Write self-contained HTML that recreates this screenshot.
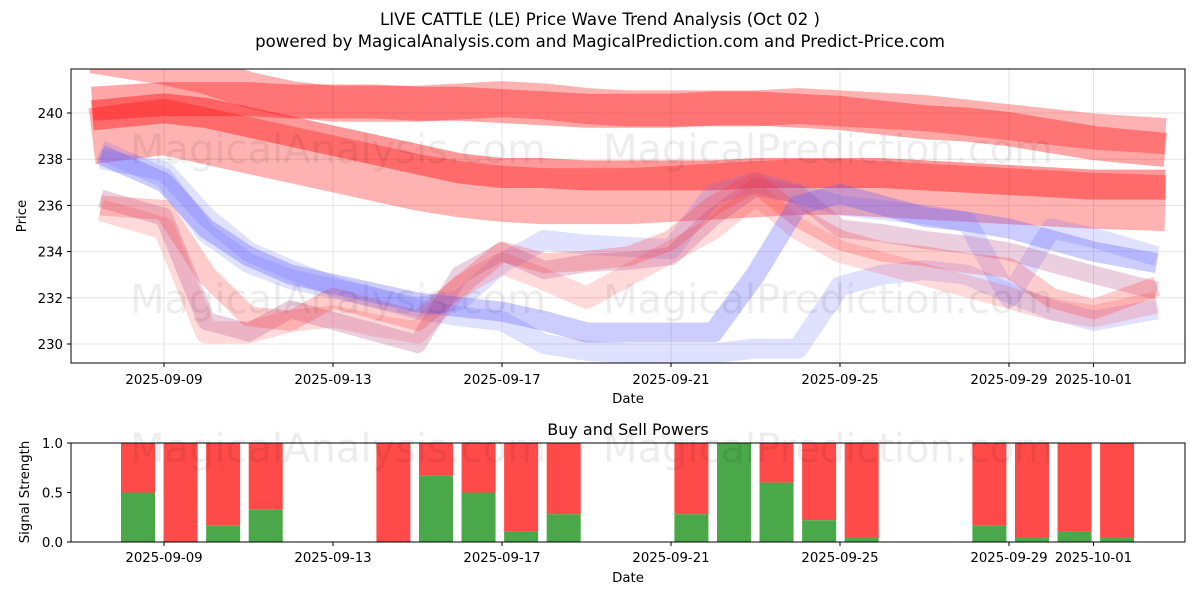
<!DOCTYPE html>
<html><head><meta charset="utf-8"><style>
body{margin:0;background:#fff;width:1200px;height:600px;overflow:hidden;font-family:"Liberation Sans","DejaVu Sans",sans-serif}
svg text{font-family:"DejaVu Sans","Liberation Sans",sans-serif}
</style></head><body>
<svg id="c" width="1200" height="600" viewBox="0 0 1200 600">
<defs>
<clipPath id="clipTop"><rect x="71" y="69" width="1114" height="294"/></clipPath>
</defs>
<text x="600" y="25" text-anchor="middle" font-size="16.6">LIVE CATTLE (LE) Price Wave Trend Analysis (Oct 02 )</text>
<text x="600" y="47" text-anchor="middle" font-size="16.6">powered by MagicalAnalysis.com and MagicalPrediction.com and Predict-Price.com</text>
<g id="gridTop"></g>
<g id="bandsTop" clip-path="url(#clipTop)"></g>
<g id="wmTop" fill="#000" fill-opacity="0.07" font-size="40">
<text x="130" y="163">MagicalAnalysis.com</text><text x="603" y="163">MagicalPrediction.com</text>
<text x="130" y="313">MagicalAnalysis.com</text><text x="603" y="313">MagicalPrediction.com</text>
</g>
<rect x="71" y="69" width="1114" height="294" fill="none" stroke="#000" stroke-width="1"/>
<g id="axTop"></g>
<text x="628" y="403" text-anchor="middle" font-size="13.3">Date</text>
<text transform="translate(26,216) rotate(-90)" text-anchor="middle" font-size="13.3">Price</text>
<text x="628" y="435" text-anchor="middle" font-size="16">Buy and Sell Powers</text>
<g id="gridBot"></g>
<g id="barsBot"></g>
<g fill="#000" fill-opacity="0.07" font-size="40">
<text x="130" y="462">MagicalAnalysis.com</text><text x="603" y="462">MagicalPrediction.com</text>
</g>
<rect x="71" y="443" width="1114" height="99" fill="none" stroke="#000" stroke-width="1"/>
<g id="axBot"></g>
<text x="628" y="582" text-anchor="middle" font-size="13.3">Date</text>
<text transform="translate(29,492) rotate(-90)" text-anchor="middle" font-size="13.3">Signal Strength</text>
</svg>
<script>
const xTickLabels=["2025-09-09","2025-09-13","2025-09-17","2025-09-21","2025-09-25","2025-09-29","2025-10-01"];
const xTickDays=[0,4,8,12,16,20,22];
const yTicks=[230,232,234,236,238,240];
const sigTicks=[0,0.5,1];
const redDays=[-1.7,0,1,2,3,4,5,6,7,8,9,10,11,12,13,14,15,16,17,18,19,20,21,22,23.7];
const waveDays=[-1.5,0,1,2,3,4,5,6,7,8,9,10,11,12,13,14,15,16,17,18,19,20,21,22,23.5];
const redTop=[242.5,242,241.6,241,240.6,240.4,240.4,240.4,240.5,240.6,240.5,240.3,240.2,240.2,240.2,240.2,240.3,240.2,240.1,240,239.8,239.6,239.4,239.2,239];
const redMid=[240.4,240.6,240.6,240.6,240.5,240.5,240.5,240.4,240.4,240.3,240.2,240.1,240.1,240.1,240.2,240.2,240.1,240,239.8,239.6,239.5,239.3,239,238.7,238.4];
const redLight=[239,239.4,239,238.6,238.2,237.8,237.4,237,236.7,236.5,236.4,236.4,236.4,236.5,236.6,236.7,236.8,236.8,236.7,236.6,236.5,236.4,236.3,236.2,236.1];
const redDark=[239.9,240.2,240,239.6,239.2,238.8,238.4,238,237.6,237.4,237.4,237.3,237.3,237.3,237.3,237.4,237.4,237.4,237.4,237.3,237.2,237.1,237,236.9,236.9];
const blue1=[238.2,237,235,233.8,233,232.6,232.2,231.8,231.6,231.4,231,230.5,230.5,230.5,230.5,233,236,236.5,236,235.5,235.3,235,234.5,234,233.5];
const blue2=[238,237.5,235.5,234,233.2,232.5,232,231.5,231.2,231,230,229.7,229.6,229.6,229.6,229.8,229.8,232.5,233,233.2,233,232.2,231.5,231,231.5];
const blue3=[238.4,237.2,234.8,233.5,232.8,232.4,232,231.6,231.9,233.5,234.5,234.3,234.2,234.1,236.5,237,236.5,236,235.8,235.6,235.3,232,235,234.6,233.8];
const wave1=[236.3,235.5,231,230.5,231.5,231,230.5,230,233,234,233.2,233.5,233.6,233.8,235.5,236.8,236.5,235,234.8,234.5,234.3,234,233.5,233,232.3];
const wave2=[236,235.8,233,231.2,231,232,231.5,231,232.5,234,233.5,233.6,233.8,234.5,236,237,235.5,234.5,234,233.8,233.5,233.3,232,231.5,232.5];
const wave3=[235.8,235,230.5,230.5,231,231.2,230.8,230.5,232.5,233.5,232.8,232,233,234,235,236.5,235,234,233.5,233,232.5,232,231.5,231.2,231.8];
const sigDays=[0,1,2,3,6,7,8,9,10,13,14,15,16,17,20,21,22,23];
const buyPower=[0.5,0,0.17,0.33,0,0.67,0.5,0.11,0.28,0.28,1,0.6,0.22,0.05,0.17,0.05,0.11,0.05];

const NS="http://www.w3.org/2000/svg";
const X=d=>164+42.25*d;
const XB=d=>138+42.57*d;
const Y=v=>113+(240-v)*23.1;
const YS=v=>542-v*99;
function mk(tag,attrs,parent){const e=document.createElementNS(NS,tag);for(const k in attrs)e.setAttribute(k,attrs[k]);parent.appendChild(e);return e;}
const gT=document.getElementById('gridTop'),aT=document.getElementById('axTop'),bT=document.getElementById('bandsTop');
const gB=document.getElementById('gridBot'),aB=document.getElementById('axBot'),bB=document.getElementById('barsBot');
xTickDays.forEach((d,i)=>{
  const l=mk('line',{x1:X(d),x2:X(d),y1:69,y2:363,stroke:'#ddd','stroke-width':0.8},gT);
  
  
  mk('line',{x1:X(d),x2:X(d),y1:363,y2:367,stroke:'#000'},aT);
  const t=mk('text',{x:X(d),y:384,'text-anchor':'middle','font-size':13.3},aT);t.textContent=xTickLabels[i];
  
  
  mk('line',{x1:X(d),x2:X(d),y1:542,y2:546,stroke:'#000'},aB);
  const t2=mk('text',{x:X(d),y:562,'text-anchor':'middle','font-size':13.3},aB);t2.textContent=xTickLabels[i];
  
  
});
yTicks.forEach(v=>{
  const l=mk('line',{x1:71,x2:1185,y1:Y(v),y2:Y(v),stroke:'#ddd','stroke-width':0.8},gT);
  
  
  mk('line',{x1:67,x2:71,y1:Y(v),y2:Y(v),stroke:'#000'},aT);
  const t=mk('text',{x:63,y:Y(v)+5,'text-anchor':'end','font-size':13.3},aT);t.textContent=v;
  
  
});
sigTicks.forEach(v=>{
  mk('line',{x1:67,x2:71,y1:YS(v),y2:YS(v),stroke:'#000'},aB);
  const t=mk('text',{x:63,y:YS(v)+5,'text-anchor':'end','font-size':13.3},aB);t.textContent=v.toFixed(1);
  
  
});
function band(days,vals,color,op,w,name){
  const p=mk('polyline',{points:days.map((d,i)=>X(d)+','+Y(vals[i])).join(' '),fill:'none',stroke:color,'stroke-opacity':op,'stroke-width':w,'stroke-linejoin':'round'},bT);
  
  
}
band(redDays,redTop,'#ff0000',0.3,36,'red-band-top');
band(redDays,redLight,'#ff0000',0.3,56,'red-band-light');
band(redDays,redMid,'#ff0000',0.35,34,'red-band-mid');
band(redDays,redDark,'#ff0000',0.4,30,'red-band-dark');
band(waveDays,blue2,'#6666ff',0.2,20,'blue-wave-2');
band(waveDays,blue3,'#6666ff',0.2,20,'blue-wave-3');
band(waveDays,wave3,'#ff4444',0.2,22,'red-wave-3');
band(waveDays,wave1,'#b04080',0.25,18,'purple-wave-1');
band(waveDays,wave2,'#ff3333',0.25,20,'red-wave-2');
band(waveDays,blue1,'#5555ff',0.3,20,'blue-wave-1');
sigDays.forEach((d,i)=>{
  const bw=34,x=XB(d)-bw/2;
  const r=mk('rect',{x:x,y:YS(1),width:bw,height:YS(buyPower[i])-YS(1),fill:'#ff4a4a'},bB);
  
  
  const g=mk('rect',{x:x,y:YS(buyPower[i]),width:bw,height:YS(0)-YS(buyPower[i]),fill:'#4aa84a'},bB);
  
  
});
</script>
</body></html>
